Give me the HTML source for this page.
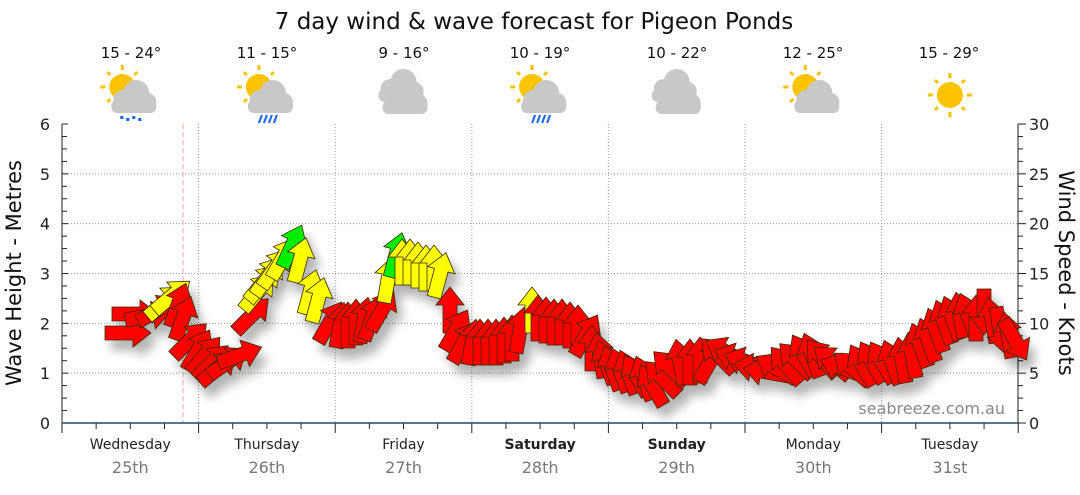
<!DOCTYPE html>
<html><head><meta charset="utf-8"><style>
body{margin:0;background:#fff;width:1080px;height:490px;overflow:hidden}
svg text{font-family:"DejaVu Sans","Liberation Sans",sans-serif}
</style></head><body>
<svg id="s" width="1080" height="490" xmlns="http://www.w3.org/2000/svg">
<defs>
<filter id="sh" x="-20%" y="-20%" width="140%" height="160%"><feGaussianBlur in="SourceAlpha" stdDeviation="5"/><feOffset dx="6" dy="10"/><feComponentTransfer><feFuncA type="linear" slope="0.3"/></feComponentTransfer><feMerge><feMergeNode/><feMergeNode in="SourceGraphic"/></feMerge></filter>
<g id="sun"><g stroke="#f5c400" stroke-width="3"><line x1="0" y1="-22" x2="0" y2="-17"/><line x1="0" y1="17" x2="0" y2="22"/><line x1="-22" y1="0" x2="-17" y2="0"/><line x1="17" y1="0" x2="22" y2="0"/><line x1="-15" y1="-15" x2="-12" y2="-12"/><line x1="12" y1="12" x2="15" y2="15"/><line x1="-15" y1="15" x2="-12" y2="12"/><line x1="12" y1="-12" x2="15" y2="-15"/></g><circle r="13" fill="#fcc300"/></g>
<g id="cloud" fill="#c8c8c8"><circle cx="-9" cy="2" r="10"/><circle cx="4" cy="-5" r="13"/><circle cx="15" cy="4" r="9"/><rect x="-21" y="2" width="45" height="13" rx="6"/></g>
</defs>
<text x="534" y="29" font-size="23" text-anchor="middle" fill="#111">7 day wind &amp; wave forecast for Pigeon Ponds</text>
<g font-size="15" text-anchor="middle" fill="#111">
<text x="131" y="58">15 - 24°</text><text x="267" y="58">11 - 15°</text><text x="404" y="58">9 - 16°</text><text x="540" y="58">10 - 19°</text><text x="677" y="58">10 - 22°</text><text x="813" y="58">12 - 25°</text><text x="949" y="58">15 - 29°</text>
</g>
<g id="icons"></g>
<g id="grid" stroke="#999" stroke-dasharray="1,2" stroke-width="1"></g>
<line x1="183" y1="124" x2="183" y2="423" stroke="#f4a0a0" stroke-dasharray="5,3"/>
<g id="axes" stroke="#222" stroke-width="1"></g>
<line x1="62" y1="423" x2="1018" y2="423" stroke="#1d4a6a" stroke-width="1.5"/>
<g font-size="15" fill="#222" id="labels"></g>
<text transform="translate(21,273) rotate(-90)" font-size="21" text-anchor="middle" fill="#111">Wave Height - Metres</text>
<text transform="translate(1059,273) rotate(90)" font-size="21" text-anchor="middle" fill="#111">Wind Speed - Knots</text>
<text x="1005" y="414" font-size="16" text-anchor="end" fill="#888">seabreeze.com.au</text>
<g id="arr" filter="url(#sh)" stroke="#3a2a00" stroke-width="0.8"></g>
</svg>
<script>
const NS="http://www.w3.org/2000/svg";
function el(p,t,a,txt){const e=document.createElementNS(NS,t);for(const k in a)e.setAttribute(k,a[k]);if(txt!==undefined)e.textContent=txt;document.getElementById(p).appendChild(e);return e;}
const X0=62,DW=136.6,Y0=423,YT=124;
for(let m=1;m<=5;m++){const y=Y0-m*(Y0-YT)/6;el('grid','line',{x1:X0,y1:y,x2:1018,y2:y});}
for(let d=1;d<=6;d++){const x=X0+d*DW;el('grid','line',{x1:x,y1:YT,x2:x,y2:Y0});}
el('axes','line',{x1:X0,y1:YT,x2:X0,y2:Y0+10});
el('axes','line',{x1:1018,y1:YT,x2:1018,y2:Y0});
for(let i=0;i<=24;i++){const y=Y0-i*(Y0-YT)/24;el('axes','line',{x1:X0,y1:y,x2:X0+(i%4==0?6:5),y2:y});el('axes','line',{x1:1018,y1:y,x2:1018+(i%4==0?8:5),y2:y});}
for(let i=0;i<=28;i++){const x=X0+i*DW/4;el('axes','line',{x1:x,y1:Y0,x2:x,y2:Y0+(i%4==0?10:6)});}
for(let m=0;m<=6;m++){const y=Y0-m*(Y0-YT)/6;el('labels','text',{x:50,y:y+6,'text-anchor':'end','font-size':'16'},m);el('labels','text',{x:1029,y:y+6,'font-size':'16'},m*5);}
const days=["Wednesday","Thursday","Friday","Saturday","Sunday","Monday","Tuesday"],dates=["25th","26th","27th","28th","29th","30th","31st"];
days.forEach((d,i)=>{const x=X0+DW*(i+0.5);const a={x:x,y:449,'text-anchor':'middle','font-size':'14'};if(i==3||i==4)a['font-weight']='bold';el('labels','text',a,d);el('labels','text',{x:x,y:473,'text-anchor':'middle','font-size':'16',fill:'#777'},dates[i]);});
const types=['sr','sr2','c','sr2','c','sc','s'];
types.forEach((t,i)=>{const x=X0+DW*(i+0.5),y=95;
 if(t=='s'){el('icons','use',{href:'#sun',x:x,y:y});return;}
 if(t!='c')el('icons','use',{href:'#sun',x:x-8,y:y-8});
 if(t=='c'){el('icons','use',{href:'#cloud',x:x-4,y:y-8});el('icons','use',{href:'#cloud',x:x,y:y+4});}
 else el('icons','use',{href:'#cloud',x:x+2,y:y+3});
 if(t=='sr')for(let k=0;k<4;k++)el('icons','rect',{x:x-10+k*6,y:y+21+(k%2)*2,width:3,height:3,fill:'#1565f5'});
 if(t=='sr2')for(let k=0;k<4;k++)el('icons','line',{x1:x-8+k*5,y1:y+28,x2:x-5+k*5,y2:y+20,stroke:'#1565f5','stroke-width':2});
});
const A=[[128,333,0,'r'],[135,314,0,'r'],[148,316,-10,'r'],[158,310,-30,'r'],[165,302,-40,'y'],[172,296,-40,'y'],[178,305,-70,'r'],[183,318,-70,'r'],[190,340,-45,'r'],[198,350,-60,'r'],[205,355,-50,'r'],[212,362,-45,'r'],[218,368,-40,'r'],[228,362,-35,'r'],[240,355,-20,'r'],[252,315,-45,'r'],[258,292,-50,'y'],[263,283,-50,'y'],[268,276,-55,'y'],[275,268,-55,'y'],[283,258,-60,'y'],[292,246,-65,'g'],[300,260,-75,'y'],[310,292,-75,'y'],[318,300,-75,'y'],[330,322,-60,'r'],[340,325,-80,'r'],[348,325,-90,'r'],[356,322,-90,'r'],[364,320,-80,'r'],[372,318,-70,'r'],[382,310,-60,'r'],[388,280,-80,'y'],[396,255,-75,'g'],[402,262,-90,'y'],[410,262,-90,'y'],[418,265,-90,'y'],[426,268,-90,'y'],[434,268,-90,'y'],[440,275,-75,'y'],[450,310,-90,'r'],[456,330,-60,'r'],[464,342,-60,'r'],[472,342,-80,'r'],[480,342,-90,'r'],[488,342,-90,'r'],[496,342,-90,'r'],[504,340,-90,'r'],[512,338,-90,'r'],[520,330,-80,'r'],[532,310,-90,'y'],[538,318,-90,'r'],[546,320,-90,'r'],[554,322,-90,'r'],[562,322,-90,'r'],[570,325,-90,'r'],[578,328,-90,'r'],[586,335,-60,'r'],[592,348,-90,'r'],[600,355,-100,'r'],[606,362,-110,'r'],[612,368,-110,'r'],[620,370,-110,'r'],[628,372,-110,'r'],[636,375,-120,'r'],[644,378,-110,'r'],[652,385,-120,'r'],[662,378,-135,'r'],[670,368,-135,'r'],[680,362,-100,'r'],[690,362,-90,'r'],[700,360,-90,'r'],[710,362,-60,'r'],[718,355,-135,'r'],[726,352,-150,'r'],[736,358,-160,'r'],[746,362,-160,'r'],[756,368,-170,'r'],[766,372,-170,'r'],[776,368,-150,'r'],[786,365,-130,'r'],[796,360,-135,'r'],[804,355,-120,'r'],[812,355,-110,'r'],[822,358,-130,'r'],[832,362,-140,'r'],[842,368,-160,'r'],[852,368,-140,'r'],[862,365,-120,'r'],[872,362,-120,'r'],[882,362,-120,'r'],[892,362,-110,'r'],[902,360,-100,'r'],[912,355,-100,'r'],[920,345,-110,'r'],[928,340,-110,'r'],[936,330,-110,'r'],[944,322,-110,'r'],[952,318,-110,'r'],[960,315,-100,'r'],[968,315,-110,'r'],[976,318,-90,'r'],[984,312,90,'r'],[992,320,-100,'r'],[1000,330,80,'r'],[1008,335,-100,'r'],[1015,340,60,'r']];
const C={r:'#ff0000',y:'#ffff00',g:'#00ee00'};
const pts="-23,-7 5,-7 5,-14 23,0 5,14 5,7 -23,7";
A.forEach(a=>el('arr','polygon',{points:pts,fill:C[a[3]],transform:`translate(${a[0]},${a[1]}) rotate(${a[2]})`}));
</script>
</body></html>
